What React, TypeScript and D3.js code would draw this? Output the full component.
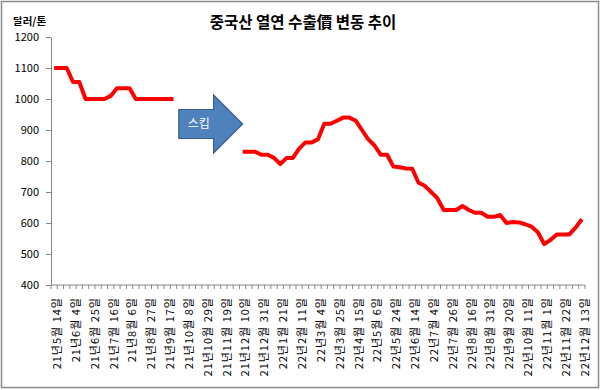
import { useEffect, useRef } from "react";
import * as d3 from "d3";

// weekly prices, $/ton (null = skipped weeks)
const values: (number | null)[] = [
  1100, 1100, 1100, 1055, 1055, 1000, 1000, 1000, 1000, 1010,
  1035, 1035, 1035, 1000, 1000, 1000, 1000, 1000, 1000, 1000,
  null, null, null, null, null, null, null, null, null, null,
  830, 830, 830, 820, 820, 810, 790, 810, 810, 840,
  860, 860, 870, 920, 920, 930, 940, 940, 930, 900,
  870, 850, 820, 820, 782, 780, 776, 775, 730, 720,
  700, 680, 642, 642, 642, 655, 642, 633, 633, 620,
  620, 626, 600, 603, 602, 596, 588, 570, 532, 545,
  563, 563, 563, 585, 612,
];

// one label every 3rd week
const tickLabels = [
  "21년5월 14일", "21년6월 4일", "21년6월 25일", "21년7월 16일", "21년8월 6일",
  "21년8월 27일", "21년9월 17일", "21년10월 8일", "21년10월 29일", "21년11월 19일",
  "21년12월 10일", "21년12월 31일", "22년1월 21일", "22년2월 11일", "22년3월 4일",
  "22년3월 25일", "22년4월 15일", "22년5월 6일", "22년5월 24일", "22년6월 14일",
  "22년7월 4일", "22년7월 26일", "22년8월 16일", "22년8월 31일", "22년9월 20일",
  "22년10월 11일", "22년11월 1일", "22년11월 22일", "22년12월 13일",
];

const yTicks = [400, 500, 600, 700, 800, 900, 1000, 1100, 1200];

const FONT = "'Noto Sans CJK KR', 'Noto Sans', sans-serif";

export default function App() {
  const ref = useRef<SVGSVGElement>(null);

  useEffect(() => {
    const el = ref.current;
    if (!el) return;
    const W = 600;
    const H = 390;
    const M = { top: 37, right: 15, bottom: 105, left: 51 };

    const svg = d3.select(el);
    svg.selectAll("*").remove();

    // outer border
    svg.append("rect")
      .attr("x", 1.5).attr("y", 1.5)
      .attr("width", W - 3).attr("height", H - 4)
      .attr("fill", "#fff").attr("stroke", "#8c8c8c").attr("stroke-width", 1.5);

    const x = d3.scaleBand<number>()
      .domain(d3.range(values.length))
      .range([M.left, W - M.right]);
    const cx = (i: number) => (x(i) as number) + x.bandwidth() / 2;

    const y = d3.scaleLinear().domain([400, 1200]).range([H - M.bottom, M.top]);

    // title
    svg.append("text")
      .attr("x", 303).attr("y", 28)
      .attr("text-anchor", "middle")
      .style("font-family", FONT).style("font-size", "15.5px").style("font-weight", "bold")
      .text("중국산 열연 수출價 변동 추이");

    svg.append("text")
      .attr("x", 13).attr("y", 25)
      .style("font-family", FONT).style("font-size", "10.5px").style("font-weight", "bold")
      .text("달러/톤");

    // y axis
    svg.append("g")
      .attr("transform", `translate(${M.left},0)`)
      .call(d3.axisLeft(y).tickValues(yTicks).tickFormat(d3.format("d")).tickSize(5).tickPadding(7).tickSizeOuter(0))
      .call((g) => g.select(".domain").attr("stroke", "#868686"))
      .call((g) => g.selectAll(".tick line").attr("stroke", "#868686"))
      .call((g) => g.selectAll(".tick text")
        .attr("fill", "#000")
        .style("font-family", FONT).style("font-size", "11px"));

    // x axis: category boundary ticks
    const xa = svg.append("g").attr("transform", `translate(0,${H - M.bottom})`);
    xa.append("line")
      .attr("x1", M.left).attr("x2", W - M.right)
      .attr("stroke", "#868686");
    xa.selectAll("line.tk")
      .data(d3.range(values.length + 1))
      .join("line").attr("class", "tk")
      .attr("x1", (i) => M.left + i * x.bandwidth())
      .attr("x2", (i) => M.left + i * x.bandwidth())
      .attr("y1", 0).attr("y2", 4)
      .attr("stroke", "#868686");

    xa.selectAll("text")
      .data(tickLabels)
      .join("text")
      .attr("transform", (_, k) => `translate(${cx(k * 3) + 3},12) rotate(-90)`)
      .attr("text-anchor", "end")
      .attr("dy", "0.35em")
      .style("font-family", FONT).style("font-size", "11px")
      .style("letter-spacing", "1px")
      .text((d) => d);

    // line
    const line = d3.line<number | null>()
      .defined((d) => d != null)
      .x((_, i) => cx(i))
      .y((d) => y(d as number));

    svg.append("path")
      .datum(values)
      .attr("d", line)
      .attr("fill", "none")
      .attr("stroke", "#ff0000")
      .attr("stroke-width", 4)
      .attr("stroke-linejoin", "round");

    // "skip" arrow across the gap
    const ax0 = cx(20) - 1;
    const ax1 = cx(30);
    const ah = ax1 - 29;
    const ay = 124;
    svg.append("path")
      .attr("d", `M${ax0},${ay - 14.5}H${ah}V${ay - 29}L${ax1},${ay}L${ah},${ay + 29}V${ay + 14.5}H${ax0}Z`)
      .attr("fill", "#4f81bd")
      .attr("stroke", "#385d8a")
      .attr("stroke-width", 1.2);
    svg.append("text")
      .attr("x", ax0 + 20).attr("y", ay)
      .attr("dy", "0.35em")
      .attr("text-anchor", "middle")
      .attr("fill", "#fff")
      .style("font-family", FONT).style("font-size", "12px")
      .text("스킵");
  }, []);

  return (
    <svg
      ref={ref}
      width={600}
      height={390}
      style={{ position: "absolute", left: 0, top: 0, background: "#fff" }}
    />
  );
}
